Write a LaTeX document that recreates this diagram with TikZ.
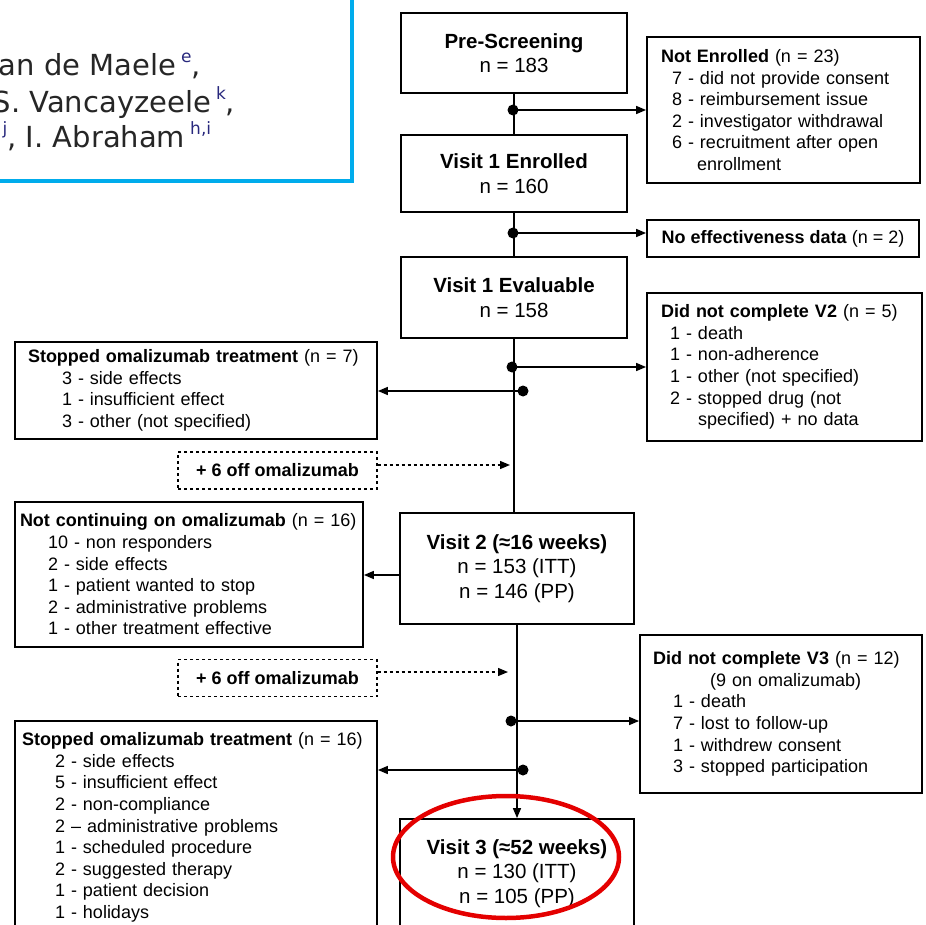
\documentclass[tikz,border=0pt]{standalone}
\usepackage{fontspec}
\setmainfont{Liberation Sans}
\newfontfamily\authfont{DejaVu Sans}
\usetikzlibrary{arrows.meta}
\definecolor{framecyan}{RGB}{0,172,236}
\definecolor{supnavy}{RGB}{40,40,125}
\definecolor{ringred}{RGB}{228,0,0}
\newcommand{\authsup}[1]{\hspace{5pt}\raisebox{13pt}{\fontsize{17}{17}\selectfont\color{supnavy}#1}}
\begin{document}
\begin{tikzpicture}[x=1pt,y=-1pt,line width=1.5pt,
  mainbox/.style={draw,line width=1.8pt,align=center,inner sep=0pt,font=\fontsize{20.5}{24.5}\selectfont},
  sidebox/.style={draw,line width=1.8pt,align=left,font=\fontsize{18}{21.6}\selectfont},
  offbox/.style={draw,dashed,line width=1.3pt,minimum width=199pt,minimum height=37pt,font=\bfseries\fontsize{18}{21.6}\selectfont},
  arr/.style={-{Triangle[length=10pt,width=8pt]}},
  offarr/.style={dashed,line width=1.3pt,-{Triangle[length=10pt,width=8pt]}},
  auth/.style={anchor=base west,inner sep=0pt,text=black!85,font=\authfont\fontsize{29}{34}\selectfont}]
\useasboundingbox (0,0) rectangle (926,925);
\clip (0,0) rectangle (926,925);
% author frame
\draw[framecyan,line width=4pt] (-20,-20) rectangle (352,181);
\node[auth] (authA) at (-2,76) {an de Maele\authsup{e},};
\node[auth] (authB) at (-8,113) {S. Vancayzeele\authsup{k},};
\node[auth] (authC) at (-3,148) {\authsup{j}, I. Abraham\authsup{h,i}};
% main column
\node[mainbox,minimum width=226pt,minimum height=80pt] (pre) at (514,53) {\textbf{Pre-Screening}\\n = 183};
\node[mainbox,minimum width=226pt,minimum height=77pt] (enr) at (514,173.5) {\textbf{Visit 1 Enrolled}\\n = 160};
\node[mainbox,minimum width=226pt,minimum height=81pt] (eval) at (514,297.5) {\textbf{Visit 1 Evaluable}\\n = 158};
\node[mainbox,minimum width=234pt,minimum height=111pt] (v2) at (517,568.5) {\textbf{Visit 2 (≈16 weeks)}\\n = 153 (ITT)\\n = 146 (PP)};
\node[mainbox,minimum width=234pt,minimum height=109pt] (v3) at (517,873.5) {\textbf{Visit 3 (≈52 weeks)}\\n = 130 (ITT)\\n = 105 (PP)};
% right column
\node[sidebox,text width=245pt,inner xsep=14pt,minimum height=146pt] (notenr) at (783.5,110) {\textbf{Not Enrolled} (n = 23)\\
  \hspace*{11pt}7 - did not provide consent\\
  \hspace*{11pt}8 - reimbursement issue\\
  \hspace*{11pt}2 - investigator withdrawal\\
  \hspace*{11pt}6 - recruitment after open\\
  \hspace*{36pt}enrollment};
\node[sidebox,minimum width=272pt,minimum height=37pt] (noeff) at (783,238.5) {\textbf{No effectiveness data} (n = 2)};
\node[sidebox,text width=247pt,inner xsep=14pt,minimum height=148pt] (nov2) at (784.5,367) {\textbf{Did not complete V2} (n = 5)\\
  \hspace*{9pt}1 - death\\
  \hspace*{9pt}1 - non-adherence\\
  \hspace*{9pt}1 - other (not specified)\\
  \hspace*{9pt}2 - stopped drug (not\\
  \hspace*{37pt}specified) + no data};
\node[sidebox,text width=256pt,inner xsep=13pt,minimum height=158pt] (nov3) at (781,714) {\textbf{Did not complete V3} (n = 12)\\
  \hspace*{57pt}(9 on omalizumab)\\
  \hspace*{20pt}1 - death\\
  \hspace*{20pt}7 - lost to follow-up\\
  \hspace*{20pt}1 - withdrew consent\\
  \hspace*{20pt}3 - stopped participation};
% left column
\node[sidebox,text width=336pt,inner xsep=13pt,minimum height=97pt] (stop7) at (196,390.5) {\textbf{Stopped omalizumab treatment} (n = 7)\\
  \hspace*{34pt}3 - side effects\\
  \hspace*{34pt}1 - insufficient effect\\
  \hspace*{34pt}3 - other (not specified)};
\node[offbox] (off1) at (277.5,470.5) {+ 6 off omalizumab};
\node[sidebox,text width=338pt,inner xsep=5pt,minimum height=145pt] (notcont) at (189,574.5) {\textbf{Not continuing on omalizumab} (n = 16)\\
  \hspace*{28pt}10 - non responders\\
  \hspace*{28pt}2 - side effects\\
  \hspace*{28pt}1 - patient wanted to stop\\
  \hspace*{28pt}2 - administrative problems\\
  \hspace*{28pt}1 - other treatment effective};
\node[offbox] (off2) at (277.5,678) {+ 6 off omalizumab};
\node[sidebox,text width=348pt,inner xsep=7pt,minimum height=213pt] (stop16) at (196,827.5) {\textbf{Stopped omalizumab treatment} (n = 16)\\
  \hspace*{33pt}2 - side effects\\
  \hspace*{33pt}5 - insufficient effect\\
  \hspace*{33pt}2 - non-compliance\\
  \hspace*{33pt}2 -- administrative problems\\
  \hspace*{33pt}1 - scheduled procedure\\
  \hspace*{33pt}2 - suggested therapy\\
  \hspace*{33pt}1 - patient decision\\
  \hspace*{33pt}1 - holidays};
% junctions
\coordinate (j1) at (513,110);
\coordinate (j2) at (513,233);
\coordinate (j3) at (512,367);
\coordinate (j4) at (523,391);
\coordinate (d1) at (510,465);
\coordinate (k5) at (400,575);
\coordinate (d2) at (508,672);
\coordinate (j6) at (511,721);
\coordinate (j7) at (523,770);
% connectors
\draw (pre.south) -- (enr.north);
\draw (enr.south) -- (eval.north);
\draw (eval.south) -- (eval.south |- v2.north);
\draw[arr] (v2.south) -- (v3.north);
\draw[arr] (j1) -- (j1 -| notenr.west);
\draw[arr] (j2) -- (j2 -| noeff.west);
\draw[arr] (j3) -- (j3 -| nov2.west);
\draw[arr] (j4) -- (j4 -| stop7.east);
\draw[offarr] (off1.east |- d1) -- (d1);
\draw[arr] (k5) -- (k5 -| notcont.east);
\draw[offarr] (off2.east |- d2) -- (d2);
\draw[arr] (j6) -- (j6 -| nov3.west);
\draw[arr] (j7) -- (j7 -| stop16.east);
\foreach \j in {j1,j2,j3,j4,j6,j7}
  \fill (\j) circle (5.5pt);
% highlight
\draw[ringred,line width=4.5pt] (506,857) ellipse [x radius=113pt,y radius=61pt];
\end{tikzpicture}
\end{document}
